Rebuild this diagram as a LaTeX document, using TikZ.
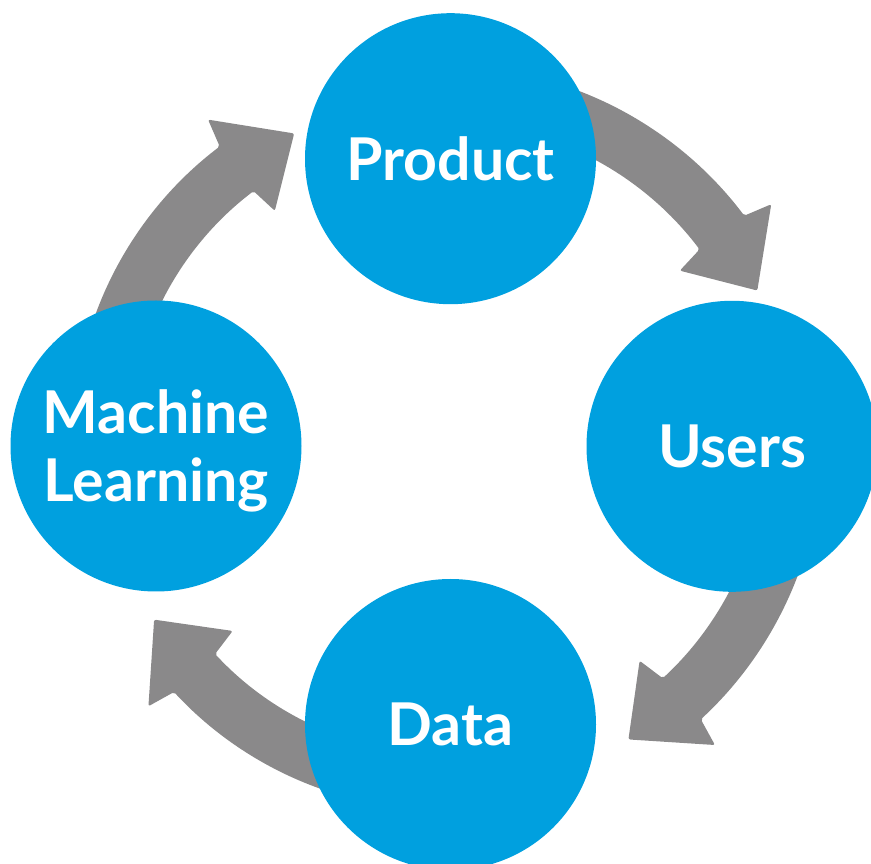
\documentclass[tikz,border=0pt]{standalone}
\usepackage{fontspec}
\setmainfont{Lato}
\usetikzlibrary
  {
    backgrounds,              % arrows go behind the circles
    calc,
  }

\definecolor{stageblue}{RGB}{0,160,223}
\definecolor{flowgray}{RGB}{138,137,138}

\tikzset{
  stage/.style={circle, fill=stageblue, minimum size=291pt, inner sep=0,
    text=white, align=center, text depth=0pt,
    font=\fontsize{59}{68}\selectfont\bfseries},
  flow/.style={fill=flowgray, rounded corners=2pt},
}

% thick curved arrow round the hub: radius, start angle, notch angle, tip angle
\newcommand\cyclearrow[4]{%
  \fill[flow] (#2:{#1+28}) arc[start angle=#2, end angle=#3, radius=#1+28]
    -- ({#3-1}:{#1+56.5}) -- (#4:#1) -- ({#3-1}:{#1-56.5})
    -- (#3:{#1-28}) arc[start angle=#3, end angle=#2, radius=#1-28] -- cycle;}

\begin{document}
\begin{tikzpicture}[x=1pt,y=1pt]
    \useasboundingbox (0,0) rectangle (871,863);
    \clip (0,0) rectangle (871,863);
    \node (product) [stage] at (450.5,704.3) {Product};
    \node (users) [stage] at (732,416.7) {Users};
    \node (data) [stage] at (450.5,138.5) {Data};
    \node (ml) [stage] at (156,417) {Machine\\Learning};
    \coordinate (hub) at (444,421);
    \begin{pgfonlayer}{background}
      \begin{scope}[shift={(hub)}]
        \cyclearrow{348}{72}{37}{25.8}
        \cyclearrow{350}{-12}{-47.2}{-58.2}
        \cyclearrow{340}{-103}{-137.2}{-148.5}
        \cyclearrow{343}{168}{127.2}{115.9}
      \end{scope}
    \end{pgfonlayer}
  \end{tikzpicture}
\end{document}
